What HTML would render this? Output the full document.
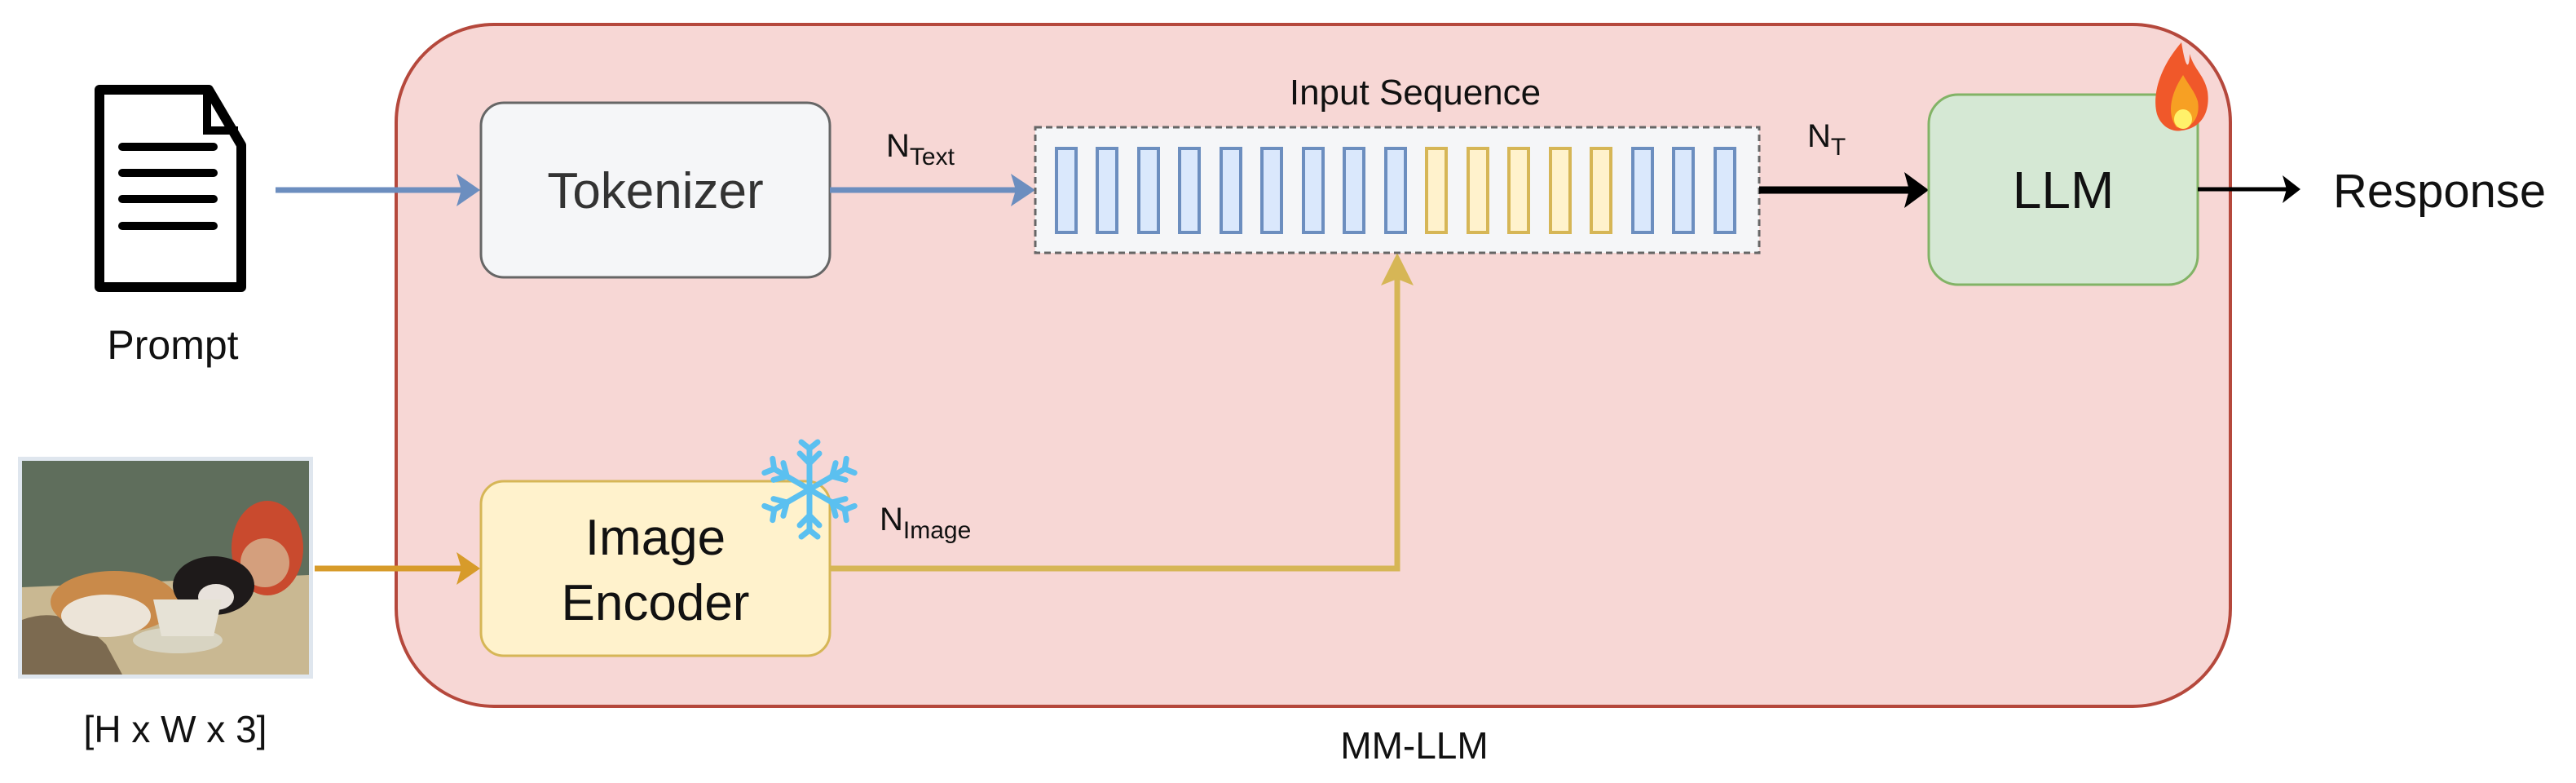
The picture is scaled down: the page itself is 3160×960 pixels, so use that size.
<!DOCTYPE html>
<html><head><meta charset="utf-8"><style>
html,body{margin:0;padding:0;background:#fff;width:3160px;height:960px;overflow:hidden}
svg{display:block}
text{font-family:"Liberation Sans",Arial,sans-serif;fill:#111}
</style></head><body>
<svg width="3160" height="960" viewBox="0 0 3160 960" xmlns="http://www.w3.org/2000/svg">
<rect x="486" y="30" width="2250" height="836" rx="120" ry="120" fill="#f7d7d5" stroke="#b5483c" stroke-width="4"/>
<text x="1735" y="930" font-size="46" text-anchor="middle">MM-LLM</text>

<path d="M122 110 H256 L296 178 V352 H122 Z" fill="#fff" stroke="#000" stroke-width="12" stroke-linejoin="round"/>
<path d="M254 108 V160 H292" fill="none" stroke="#000" stroke-width="10"/>
<g stroke="#000" stroke-width="10" stroke-linecap="round">
<line x1="150" y1="180" x2="262" y2="180"/><line x1="150" y1="212" x2="262" y2="212"/>
<line x1="150" y1="244" x2="262" y2="244"/><line x1="150" y1="277" x2="262" y2="277"/>
</g>
<text x="212" y="440" font-size="50" text-anchor="middle">Prompt</text>

<rect x="22" y="560" width="362" height="272" fill="#dfe6ee"/>
<rect x="27" y="565" width="352" height="262" fill="#6d7660"/>
<rect x="27" y="565" width="352" height="160" fill="#5f6e5c"/>
<path d="M27 720 L379 705 L379 827 L27 827 Z" fill="#c9b892"/>
<path d="M27 760 Q80 740 130 790 L150 827 H27 Z" fill="#7c6a50"/>
<ellipse cx="328" cy="672" rx="44" ry="58" fill="#c94a2e"/>
<ellipse cx="325" cy="690" rx="30" ry="30" fill="#d9c3a0" opacity=".7"/>
<ellipse cx="140" cy="738" rx="78" ry="38" fill="#c98a4a"/>
<ellipse cx="130" cy="755" rx="55" ry="26" fill="#ece4d8"/>
<ellipse cx="262" cy="718" rx="50" ry="36" fill="#1e1a1a"/>
<ellipse cx="265" cy="732" rx="22" ry="16" fill="#e8e2dc"/>
<ellipse cx="218" cy="785" rx="55" ry="16" fill="#d8d4c2"/>
<path d="M188 735 H272 L262 780 H198 Z" fill="#e6e2d6"/>

<text x="215" y="910" font-size="46" text-anchor="middle">[H x W x 3]</text>

<line x1="338" y1="233" x2="570" y2="233" stroke="#6c8ebf" stroke-width="7"/>
<path d="M589 233 L560 213 L566 233 L560 253 Z" fill="#6c8ebf"/>
<line x1="386" y1="697" x2="570" y2="697" stroke="#d79b2a" stroke-width="7"/>
<path d="M589 697 L560 677 L566 697 L560 717 Z" fill="#d79b2a"/>

<rect x="590" y="126" width="428" height="214" rx="28" fill="#f5f6f8" stroke="#666" stroke-width="3"/>
<text x="804" y="255" font-size="62" text-anchor="middle" style="fill:#333">Tokenizer</text>

<rect x="590" y="590" width="428" height="214" rx="28" fill="#fff2cc" stroke="#d6b656" stroke-width="3"/>
<text x="804" y="680" font-size="62" text-anchor="middle">Image</text>
<text x="804" y="760" font-size="62" text-anchor="middle">Encoder</text>

<g transform="translate(993,600)" stroke="#5bc0f0" stroke-width="7" stroke-linecap="round" fill="none">
<g id="arm"><line x1="0" y1="0" x2="0" y2="-50"/><polyline points="-12,-44 0,-32 12,-44"/><polyline points="-10,-58 0,-50 10,-58"/></g>
<use href="#arm" transform="rotate(60)"/><use href="#arm" transform="rotate(120)"/>
<use href="#arm" transform="rotate(180)"/><use href="#arm" transform="rotate(240)"/><use href="#arm" transform="rotate(300)"/>
</g>

<text x="1087" y="192" font-size="40">N<tspan font-size="30" dy="10">Text</tspan></text>
<text x="1079" y="650" font-size="40">N<tspan font-size="30" dy="10">Image</tspan></text>

<line x1="1018" y1="233" x2="1250" y2="233" stroke="#6c8ebf" stroke-width="7"/>
<path d="M1270 233 L1240 213 L1246 233 L1240 253 Z" fill="#6c8ebf"/>

<polyline points="1018,697 1714,697 1714,335" fill="none" stroke="#d6b656" stroke-width="7"/>
<path d="M1714 310 L1694 350 L1714 342 L1734 350 Z" fill="#d6b656"/>

<text x="1736" y="128" font-size="44" text-anchor="middle">Input Sequence</text>
<rect x="1270" y="156" width="888" height="154" fill="#f5f6f8" stroke="#666" stroke-width="3" stroke-dasharray="8 5"/>
<g stroke-width="4">
<rect x="1296" y="182" width="24" height="103" fill="#dae8fc" stroke="#6c8ebf"/>
<rect x="1346" y="182" width="24" height="103" fill="#dae8fc" stroke="#6c8ebf"/>
<rect x="1397" y="182" width="24" height="103" fill="#dae8fc" stroke="#6c8ebf"/>
<rect x="1447" y="182" width="24" height="103" fill="#dae8fc" stroke="#6c8ebf"/>
<rect x="1498" y="182" width="24" height="103" fill="#dae8fc" stroke="#6c8ebf"/>
<rect x="1548" y="182" width="24" height="103" fill="#dae8fc" stroke="#6c8ebf"/>
<rect x="1599" y="182" width="24" height="103" fill="#dae8fc" stroke="#6c8ebf"/>
<rect x="1649" y="182" width="24" height="103" fill="#dae8fc" stroke="#6c8ebf"/>
<rect x="1700" y="182" width="24" height="103" fill="#dae8fc" stroke="#6c8ebf"/>
<rect x="1750" y="182" width="24" height="103" fill="#fff2cc" stroke="#d6b656"/>
<rect x="1801" y="182" width="24" height="103" fill="#fff2cc" stroke="#d6b656"/>
<rect x="1851" y="182" width="24" height="103" fill="#fff2cc" stroke="#d6b656"/>
<rect x="1902" y="182" width="24" height="103" fill="#fff2cc" stroke="#d6b656"/>
<rect x="1952" y="182" width="24" height="103" fill="#fff2cc" stroke="#d6b656"/>
<rect x="2003" y="182" width="24" height="103" fill="#dae8fc" stroke="#6c8ebf"/>
<rect x="2053" y="182" width="24" height="103" fill="#dae8fc" stroke="#6c8ebf"/>
<rect x="2104" y="182" width="24" height="103" fill="#dae8fc" stroke="#6c8ebf"/>
</g>

<line x1="2158" y1="233" x2="2345" y2="233" stroke="#000" stroke-width="9"/>
<path d="M2366 233 L2336 211 L2342 233 L2336 255 Z" fill="#000"/>
<text x="2217" y="180" font-size="40">N<tspan font-size="30" dy="10">T</tspan></text>

<rect x="2366" y="116" width="330" height="233" rx="36" fill="#d5e8d4" stroke="#82b366" stroke-width="3"/>
<text x="2531" y="255" font-size="64" text-anchor="middle">LLM</text>

<path d="M2676 52 C2648 84 2640 118 2646 140 C2652 158 2668 162 2676 160 C2698 158 2712 140 2708 112 C2704 92 2692 86 2686 66 C2686 82 2682 90 2676 52 Z" fill="#f0582a"/>
<path d="M2678 92 C2662 116 2658 140 2670 156 C2686 160 2700 146 2696 124 C2692 112 2686 106 2678 92 Z" fill="#f7a023"/>
<ellipse cx="2678" cy="146" rx="11" ry="12" fill="#fff16a"/>

<line x1="2696" y1="232" x2="2805" y2="232" stroke="#000" stroke-width="5"/>
<path d="M2822 232 L2800 215 L2805 232 L2800 249 Z" fill="#000"/>
<text x="2862" y="254" font-size="58">Response</text>
</svg>
</body></html>
